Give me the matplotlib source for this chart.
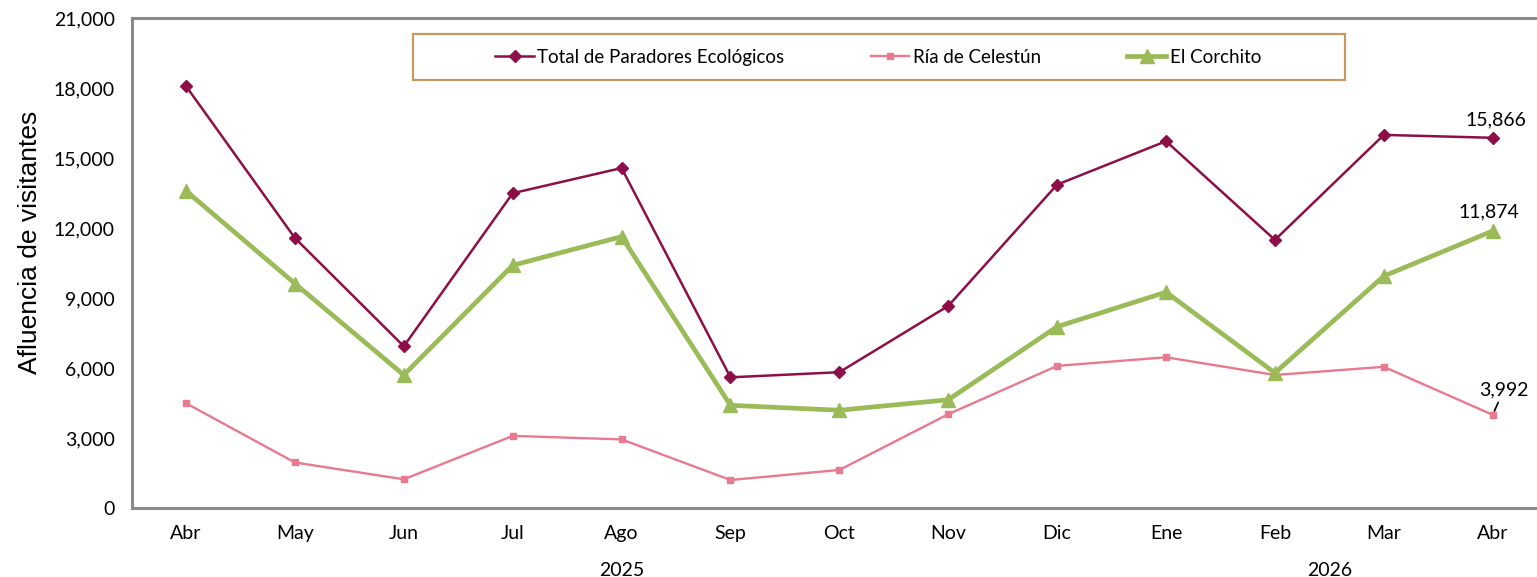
import matplotlib.pyplot as plt
import matplotlib.patches as mpatches
import numpy as np

# -------------------------------------------------------
# Data
months = ['Abr', 'May', 'Jun', 'Jul', 'Ago', 'Sep', 'Oct', 'Nov', 'Dic',
          'Ene', 'Feb', 'Mar', 'Abr']
years = ['2025', '2026']
total = [18080, 11570, 6930, 13490, 14570, 5600, 5820, 8660, 13860,
         15720, 11490, 15990, 15866]
celestun = [4490, 1950, 1230, 3090, 2940, 1200, 1630, 4020, 6090,
            6460, 5700, 6050, 3992]
corchito = [13590, 9620, 5700, 10400, 11630, 4400, 4190, 4640, 7770,
            9250, 5790, 9940, 11874]

# -------------------------------------------------------
# Style
plt.rcParams['font.family'] = ['Lato', 'DejaVu Sans']
c_total = '#8E0F47'
c_celestun = '#E9798F'
c_corchito = '#9BBB59'
c_frame = '#8A8A8A'
fs = 14

fig = plt.figure(figsize=(15.37, 5.77), dpi=100)
ax = fig.add_axes([0.0856, 0.1196, 0.921, 0.8492])

x = np.arange(len(months))

ax.plot(x, total, color=c_total, linewidth=1.8, marker='D', markersize=6.5,
        label='Total de Paradores Ecológicos')
ax.plot(x, celestun, color=c_celestun, linewidth=1.7, marker='s', markersize=5,
        label='Ría de Celestún')
ax.plot(x, corchito, color=c_corchito, linewidth=3.4, marker='^', markersize=10,
        label='El Corchito')

ax.set_xlim(-0.5, len(months) - 0.5)
ax.set_ylim(0, 21000)
ax.set_yticks(np.arange(0, 21001, 3000))
ax.set_yticklabels([f'{v:,}' for v in range(0, 21001, 3000)], fontsize=fs)
ax.set_xticks(x)
ax.set_xticklabels(months, fontsize=fs)
ax.tick_params(axis='both', length=0)
ax.tick_params(axis='x', pad=12)
ax.tick_params(axis='y', pad=12)

for side in ['left', 'top', 'bottom', 'right']:
    ax.spines[side].set_color(c_frame)
    ax.spines[side].set_linewidth(2.2)

ax.set_ylabel('Afluencia de visitantes', fontsize=19, family='Liberation Sans')
ax.yaxis.set_label_coords(-0.0632, 0.543)

# Year labels under the months
ax.text(4, -0.128, years[0], transform=ax.get_xaxis_transform(),
        ha='center', va='center', fontsize=fs)
ax.text(10.5, -0.128, years[1], transform=ax.get_xaxis_transform(),
        ha='center', va='center', fontsize=fs)

# Value labels on the last month
last = len(months) - 1
ax.annotate(f'{total[-1]:,}', (last, total[-1]), xytext=(2, 13),
            textcoords='offset points', ha='center', va='center', fontsize=fs)
ax.annotate(f'{corchito[-1]:,}', (last, corchito[-1]), xytext=(-3, 14),
            textcoords='offset points', ha='center', va='center', fontsize=fs)
ax.annotate(f'{celestun[-1]:,}', (last, celestun[-1]), xytext=(8, 18),
            textcoords='offset points', ha='center', va='center', fontsize=fs,
            arrowprops=dict(arrowstyle='-', color='black', lw=1.2,
                            shrinkA=1, shrinkB=3))

# Legend box drawn separately so its padding matches the original
box = mpatches.Rectangle((0.1989, 0.8735), 0.658, 0.0935, transform=ax.transAxes,
                         facecolor='white', edgecolor='#C59B62', linewidth=1.6,
                         zorder=4)
ax.add_patch(box)
leg = ax.legend(loc='center', ncol=3, bbox_to_anchor=(0.5274, 0.920),
                fontsize=13.5, frameon=False, handlelength=2.05,
                handletextpad=0.2, columnspacing=4.6, borderaxespad=0)
leg.set_zorder(5)

fig.savefig('out.png', dpi=100)
